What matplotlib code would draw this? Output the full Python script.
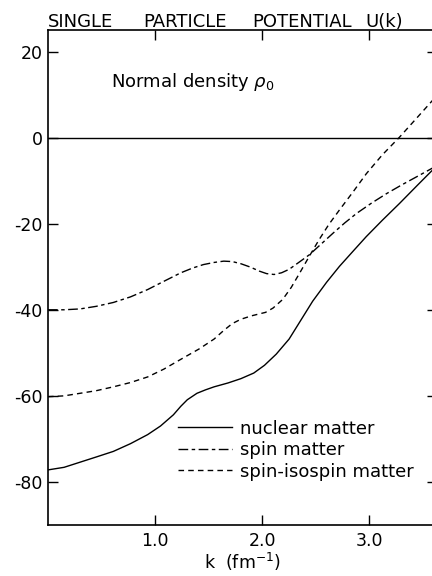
import matplotlib
matplotlib.use("Agg")
import matplotlib.pyplot as plt

plt.rcParams['axes.unicode_minus'] = False
plt.rcParams['font.family'] = ['DejaVu Sans']

k_nuc = [0, 0.15, 0.3, 0.45, 0.61, 0.77, 0.93, 1.05, 1.17, 1.24, 1.30, 1.39, 1.47, 1.55, 1.68, 1.80,
         1.92, 2.02, 2.13, 2.25, 2.36, 2.47, 2.6, 2.72, 2.85, 2.97, 3.12, 3.28, 3.45, 3.63]
u_nuc = [-77.2, -76.6, -75.4, -74.2, -72.9, -71.1, -69.0, -67.0, -64.4, -62.4, -60.9, -59.4, -58.6,
         -57.9, -57.0, -56.0, -54.7, -52.9, -50.3, -46.8, -42.4, -38.0, -33.6, -29.9, -26.3, -23.0,
         -19.2, -15.3, -11.0, -6.5]

k_spin = [0, 0.15, 0.3, 0.45, 0.61, 0.77, 0.93, 1.08, 1.24, 1.35, 1.45, 1.55, 1.64, 1.72, 1.80, 1.89,
          1.97, 2.04, 2.11, 2.18, 2.25, 2.34, 2.44, 2.55, 2.66, 2.77, 2.88, 3.02, 3.16, 3.3, 3.44, 3.63]
u_spin = [-40.0, -40.0, -39.8, -39.2, -38.3, -37.0, -35.3, -33.4, -31.4, -30.3, -29.5, -29.0, -28.7,
          -28.8, -29.3, -30.1, -31.0, -31.6, -31.8, -31.4, -30.6, -29.0, -27.2, -24.7, -22.2, -19.8,
          -17.6, -15.2, -13.0, -11.0, -9.1, -6.5]

k_si = [0, 0.15, 0.3, 0.45, 0.61, 0.77, 0.93, 1.08, 1.24, 1.41, 1.55, 1.64, 1.72, 1.8, 1.9, 2.03, 2.1,
        2.19, 2.27, 2.35, 2.44, 2.53, 2.62, 2.72, 2.85, 2.97, 3.12, 3.28, 3.45, 3.63]
u_si = [-60.2, -60.0, -59.4, -58.8, -57.9, -56.9, -55.6, -53.8, -51.5, -49.1, -46.8, -44.8, -43.2,
        -42.2, -41.4, -40.6, -39.6, -37.6, -34.8, -31.4, -27.5, -23.7, -20.2, -16.8, -12.5, -8.4,
        -4.0, 0.1, 4.8, 9.8]

labels = ['nuclear matter', 'spin matter', 'spin-isospin matter']
title_words = ['SINGLE', 'PARTICLE', 'POTENTIAL', 'U(k)']
xticks = [1.0, 2.0, 3.0]
yticks = [20, 0, -20, -40, -60, -80]

fig = plt.figure(figsize=(4.32, 5.76), dpi=100)
ax = fig.add_axes([48/432, 1-525/576, (437-48)/432, (525-30)/576])

lw = 1.0
ax.axhline(0, color='black', lw=lw)
l1, = ax.plot(k_nuc, u_nuc, color='black', lw=lw, ls='-')
l2, = ax.plot(k_spin, u_spin, color='black', lw=lw, dashes=(7, 2.5, 2.5, 2.5))
l3, = ax.plot(k_si, u_si, color='black', lw=lw, dashes=(4, 3))

ax.set_xlim(0, 3.63)
ax.set_ylim(-90, 25)
ax.set_xticks(xticks)
ax.set_xticklabels([f"{t:.1f}" for t in xticks])
ax.set_yticks(yticks)
ax.set_yticklabels([str(t) for t in yticks])
ax.tick_params(direction='in', length=7, width=1, top=True, right=True,
               labelsize=12.5, pad=4)
ax.tick_params(axis='x', pad=5)
for s in ax.spines.values():
    s.set_linewidth(1.2)

ax.set_xlabel(r'k  (fm$^{-1}$)', fontsize=12.5, labelpad=1)

# title words, widely spaced as in the original
title_x = [48, 143, 252, 365]
for w, px in zip(title_words, title_x):
    fig.text(px/432, 1-27/576, w, fontsize=13, ha='left', va='baseline')

ax.text(0.59, 11.8, r'Normal density $\rho_0$', fontsize=13, ha='left', va='baseline')

leg = ax.legend([l1, l2, l3], labels, loc='upper left',
                bbox_to_anchor=(0.334, 0.213), frameon=False, fontsize=13,
                handlelength=3.0, handletextpad=0.45, labelspacing=0.2,
                borderpad=0, borderaxespad=0)

fig.savefig('out.png', dpi=100)
